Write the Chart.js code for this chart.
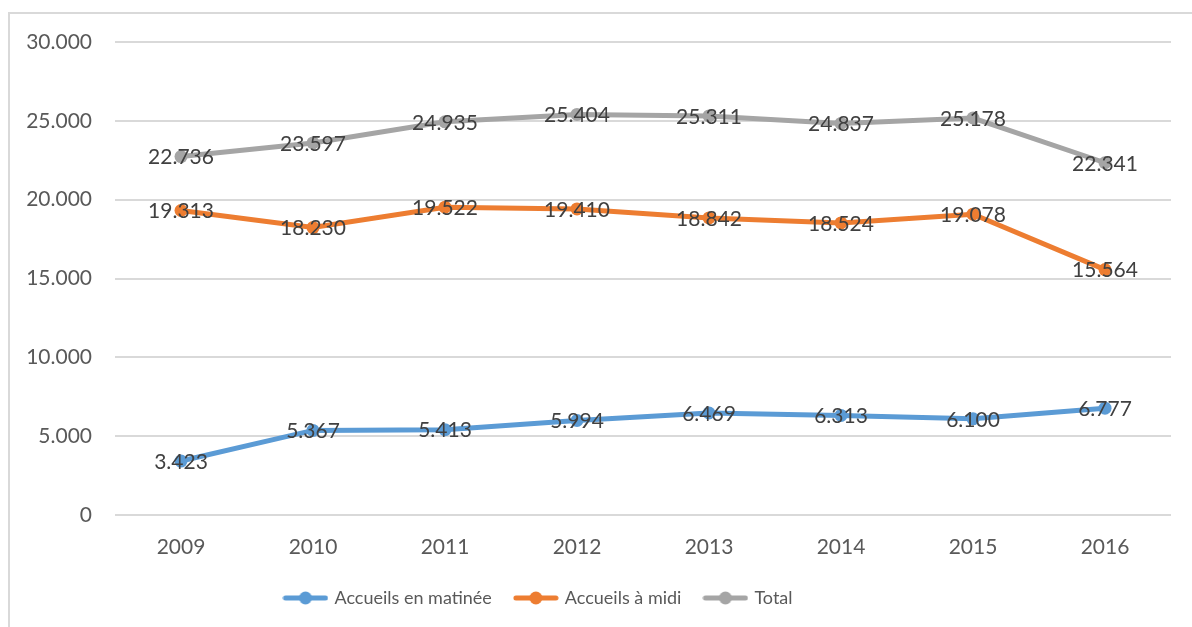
<!DOCTYPE html>
<html>
<head>
<meta charset="utf-8">
<script src="https://cdn.jsdelivr.net/npm/chart.js@4.4.1/dist/chart.umd.min.js"></script>
<style>
  html, body { margin: 0; padding: 0; background: #fff; overflow: hidden; }
  #frame { position: absolute; left: 8px; top: 12px; width: 1300px; height: 700px; border: 2px solid #d9d9d9; box-sizing: border-box; }
  #wrap { position: absolute; left: 0; top: 0; width: 1192px; height: 627px; }
</style>
</head>
<body>
<div id="frame"></div>
<div id="wrap"><canvas id="myChart" width="1192" height="627"></canvas></div>
<script>
"use strict";

const years = ["2009", "2010", "2011", "2012", "2013", "2014", "2015", "2016"];
const matinee = [3423, 5367, 5413, 5994, 6469, 6313, 6100, 6777];
const midi = [19313, 18230, 19522, 19410, 18842, 18524, 19078, 15564];
const total = [22736, 23597, 24935, 25404, 25311, 24837, 25178, 22341];
const seriesNames = ["Accueils en matinée", "Accueils à midi", "Total"];
const seriesColors = ["#5B9BD5", "#ED7D31", "#A5A5A5"];

const fontFamily = "Lato, 'Open Sans', sans-serif";

function formatNumber(v) {
    return String(v).replace(/\B(?=(\d{3})+(?!\d))/g, ".");
}

// little line + dot image for the legend
function legendMarker(color) {
    const c = document.createElement("canvas");
    c.width = 46;
    c.height = 16;
    const g = c.getContext("2d");
    g.strokeStyle = color;
    g.lineWidth = 5;
    g.lineCap = "round";
    g.beginPath();
    g.moveTo(3, 8);
    g.lineTo(43, 8);
    g.stroke();
    g.fillStyle = color;
    g.beginPath();
    g.arc(23, 8, 6.5, 0, Math.PI * 2);
    g.fill();
    return c;
}

const valueLabels = {
    id: "valueLabels",
    afterDatasetsDraw(chart) {
        const ctx = chart.ctx;
        ctx.save();
        ctx.font = "21px " + fontFamily;
        ctx.fillStyle = "#404040";
        ctx.textAlign = "center";
        ctx.textBaseline = "middle";
        chart.data.datasets.forEach((ds, i) => {
            const meta = chart.getDatasetMeta(i);
            meta.data.forEach((pt, j) => {
                ctx.fillText(formatNumber(ds.data[j]), pt.x, pt.y + 1);
            });
        });
        ctx.restore();
    }
};

// the legend in the original sits left of the canvas centre
const shiftLegend = {
    id: "shiftLegend",
    afterLayout(chart) {
        if (chart.legend) {
            chart.legend.left = 0;
            chart.legend.right = 1078;
            chart.legend.width = 1078;
        }
    }
};

function makeDataset(label, data, color) {
    return {
        label: label,
        data: data,
        borderColor: color,
        backgroundColor: color,
        borderWidth: 5,
        pointRadius: 6.5,
        pointHoverRadius: 6.5,
        pointBorderWidth: 0,
        tension: 0,
        pointStyle: "circle"
    };
}

function init() {
    const ctx = document.getElementById("myChart").getContext("2d");
    new Chart(ctx, {
        type: "line",
        data: {
            labels: years,
            datasets: [
                makeDataset(seriesNames[0], matinee, seriesColors[0]),
                makeDataset(seriesNames[1], midi, seriesColors[1]),
                makeDataset(seriesNames[2], total, seriesColors[2])
            ]
        },
        plugins: [valueLabels, shiftLegend],
        options: {
            responsive: false,
            animation: false,
            layout: {
                padding: { left: 0, right: 21, top: 42, bottom: 10 }
            },
            plugins: {
                tooltip: { enabled: false },
                legend: {
                    position: "bottom",
                    labels: {
                        usePointStyle: true,
                        pointStyleWidth: 40,
                        padding: 24,
                        color: "#595959",
                        font: { family: fontFamily, size: 18 },
                        generateLabels(chart) {
                            return chart.data.datasets.map((ds, i) => ({
                                text: ds.label,
                                fillStyle: ds.borderColor,
                                strokeStyle: ds.borderColor,
                                lineWidth: 0,
                                pointStyle: legendMarker(ds.borderColor),
                                fontColor: "#595959",
                                hidden: false,
                                datasetIndex: i
                            }));
                        }
                    }
                }
            },
            scales: {
                x: {
                    offset: true,
                    grid: { display: false, drawTicks: false },
                    border: { display: false },
                    ticks: {
                        color: "#595959",
                        padding: 20,
                        font: { family: fontFamily, size: 21 }
                    },
                    afterFit(scale) { scale.height = 50; }
                },
                y: {
                    min: 0,
                    max: 30000,
                    grid: { color: "#d9d9d9", lineWidth: 2, drawTicks: false },
                    border: { display: false },
                    ticks: {
                        stepSize: 5000,
                        color: "#595959",
                        padding: 23,
                        font: { family: fontFamily, size: 21 },
                        callback: (v) => formatNumber(v)
                    },
                    afterFit(scale) { scale.width = 115; }
                }
            }
        }
    });
}

document.addEventListener("DOMContentLoaded", init);
</script>
</body>
</html>
